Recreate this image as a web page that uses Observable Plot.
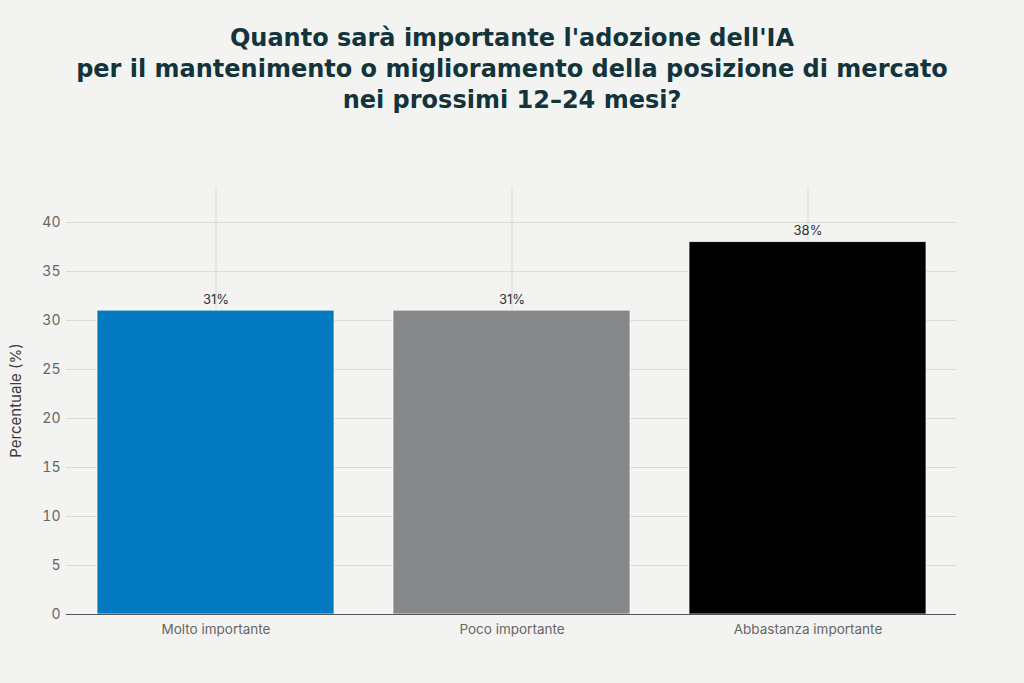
<!DOCTYPE html>
<html>
<head>
<meta charset="utf-8">
<script src="https://cdn.jsdelivr.net/npm/d3@7"></script>
<script src="https://cdn.jsdelivr.net/npm/@observablehq/plot@0.6"></script>
<style>
  html, body { margin: 0; padding: 0; background: #F3F4F1; }
  body { width: 1024px; height: 683px; overflow: hidden; }
  #title {
    height: 125px; box-sizing: border-box; padding-top: 23px;
    text-align: center; font-family: "DejaVu Sans", sans-serif; font-weight: bold;
    font-size: 24px; line-height: 31px; color: #13343B;
  }
  #chart svg { display: block; }
  #chart g[aria-label="y-axis label"] text { font-size: 15px; fill: #3a3a3a; }
</style>
</head>
<body>
<div id="title">Quanto sarà importante l'adozione dell'IA<br>per il mantenimento o miglioramento della posizione di mercato<br>nei prossimi 12–24 mesi?</div>
<div id="chart"></div>
<script>
const categories = ["Molto importante", "Poco importante", "Abbastanza importante"];
const values = [31, 31, 38];
const valueLabels = ["31%", "31%", "38%"];
const barColors = ["#0279C1", "#868788", "#000000"];
const yTicks = [0, 5, 10, 15, 20, 25, 30, 35, 40];
const yMax = 43.67;

const data = categories.map((c, i) => ({cat: c, value: values[i], label: valueLabels[i]}));

const chart = Plot.plot({
  width: 1024,
  height: 558,
  marginTop: 61,
  marginBottom: 69,
  marginLeft: 66,
  marginRight: 68,
  style: {background: "transparent", fontFamily: "Inter, 'Liberation Sans', sans-serif", fontSize: "14px", color: "#666"},
  x: {domain: categories, paddingInner: 0.2, paddingOuter: 0.1, label: null},
  y: {domain: [0, yMax], label: null},
  color: {domain: categories, range: barColors},
  marks: [
    Plot.ruleY(yTicks, {stroke: "#d9dad8", strokeWidth: 1}),
    Plot.ruleX(categories, {stroke: "#d9dad8", strokeWidth: 1}),
    Plot.barY(data, {x: "cat", y: "value", fill: "cat", stroke: "#ffffff", strokeOpacity: 0.7, strokeWidth: 1}),
    Plot.ruleY([0], {stroke: "#555", strokeWidth: 1}),
    Plot.text(data, {x: "cat", y: "value", text: "label", dy: -11, fill: "#333", fontSize: 13}),
    Plot.axisY({ticks: yTicks, tickSize: 0, tickPadding: 6, label: "Percentuale (%)", labelAnchor: "center", labelArrow: "none", labelOffset: 56, fill: "#666", fontSize: 14}),
    Plot.axisX({tickSize: 0, tickPadding: 10, label: null, fill: "#666", fontSize: 13.5})
  ]
});
document.getElementById("chart").appendChild(chart);
</script>
</body>
</html>
